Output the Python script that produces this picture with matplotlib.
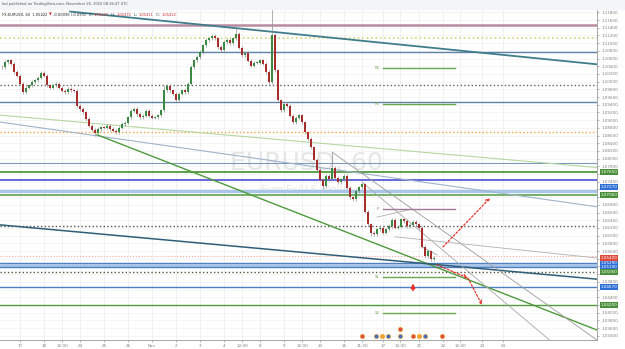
import numpy as np
import matplotlib.pyplot as plt
from matplotlib.patches import Rectangle

# hourly-ish closes (one candle every ~3 px)
closes = [1.1038, 1.1051, 1.1056, 1.1046, 1.1025, 1.1015, 1.0994, 1.0973, 1.0984, 1.0991,
          1.0999, 1.1004, 1.1010, 1.1023, 1.1015, 1.0991, 1.0984, 1.0991, 1.0994, 1.0984,
          1.0976, 1.0973, 1.0981, 1.0978, 1.0976, 1.0937, 1.0929, 1.0921, 1.0903, 1.0885,
          1.0875, 1.0867, 1.0877, 1.0882, 1.0880, 1.0885, 1.0877, 1.0872, 1.0869, 1.0880,
          1.0890, 1.0893, 1.0908, 1.0924, 1.0929, 1.0916, 1.0908, 1.0911, 1.0924, 1.0911,
          1.0906, 1.0908, 1.0913, 1.0926, 1.0978, 1.0989, 1.0978, 1.0968, 1.0952, 1.0968,
          1.0978, 1.0973, 1.0994, 1.1038, 1.1056, 1.1064, 1.1077, 1.1095, 1.1108, 1.1113,
          1.1119, 1.1113, 1.1090, 1.1082, 1.1103, 1.1108, 1.1100, 1.1113, 1.1124, 1.1088,
          1.1069, 1.1075, 1.1054, 1.1041, 1.1049, 1.1049, 1.1056, 1.1046, 1.1025, 1.0999,
          1.1121, 1.1030, 1.0952, 1.0926, 1.0942, 1.0937, 1.0911, 1.0895, 1.0906, 1.0913,
          1.0895, 1.0869, 1.0851, 1.0830, 1.0797, 1.0771, 1.0745, 1.0729, 1.0755, 1.0747,
          1.0776, 1.0750, 1.0739, 1.0747, 1.0755, 1.0724, 1.0700, 1.0695, 1.0716, 1.0726,
          1.0734, 1.0662, 1.0630, 1.0607, 1.0604, 1.0617, 1.0620, 1.0607, 1.0617, 1.0625,
          1.0641, 1.0620, 1.0623, 1.0643, 1.0638, 1.0625, 1.0628, 1.0636, 1.0630, 1.0620,
          1.0571, 1.0547, 1.0560, 1.0539, 1.0542]
extra_highs = {54: 1.0990, 78: 1.1140, 90: 1.1300, 110: 1.0817}
extra_lows = {31: 1.0860, 107: 1.0720, 123: 1.0600}

# horizontal levels drawn across the whole pane
level_prices = [1.1147, 1.1113, 1.1077, 1.0991, 1.0947, 1.0869, 1.0789, 1.0765, 1.0745,
                1.0716, 1.0706, 1.0625, 1.0547, 1.0529, 1.0524, 1.0519, 1.0506, 1.0467, 1.0420]
level_styles = [('#b88ba0', 1.8, '-'), ('#d6d27c', 1.2, ':'), ('#5f82a8', 1.0, '-'),
                ('#606060', 1.0, ':'), ('#5f82a8', 1.0, '-'), ('#f5a443', 1.0, ':'),
                ('#7d98b8', 0.8, '-'), ('#4f9a3c', 1.3, '-'), ('#3b3fd0', 1.1, '-'),
                ('#a9c6ea', 2.4, '-'), ('#4f9a3c', 1.1, '-'), ('#505050', 1.0, ':'),
                ('#f4a7a7', 0.8, ':'), ('#4f7fc0', 1.0, '-'), ('#a9c6ea', 2.2, '-'),
                ('#4f7fc0', 1.0, '-'), ('#4a5a3a', 1.0, ':'), ('#4f7fc0', 1.0, '-'),
                ('#4f9a3c', 1.0, '-')]

# pivot points (short segments)
pivot_names = ['R2', 'R1', 'P', 'S1', 'S2']
pivot_prices = [1.1036, 1.0942, 1.0669, 1.0493, 1.0399]
pivot_start, pivot_end = 127, 151

# trend lines: candle index / price of both ends
trend_x0 = [22.7, -0.7, -0.7, 31.7, -0.7, 110, 120, 131, 125, 140]
trend_p0 = [1.1182, 1.0913, 1.0895, 1.0862, 1.0628, 1.0817, 1.0739, 1.0597, 1.0648, 1.0571]
trend_x1 = [198.3, 198.3, 198.3, 198.3, 198.3, 198.3, 186, 198.3, 136, 145]
trend_p1 = [1.1045, 1.0777, 1.0675, 1.0355, 1.0487, 1.0329, 1.0306, 1.0542, 1.0668, 1.0550]
trend_styles = [('#3f7d8c', 1.3), ('#b5d6a0', 0.8), ('#9fb3cb', 0.8), ('#4f9a3c', 1.0),
                ('#2f5f78', 1.1), ('#9a9a9a', 0.6), ('#a8a8a8', 0.6), ('#b0b0b0', 0.6),
                ('#b0b0b0', 0.6), ('#a0a0a0', 0.6)]

# projected paths (red dotted arrows)
arrow_start = [(147, 1.0571), (145, 1.0524), (155.3, 1.0490)]
arrow_end = [(162.7, 1.0698), (155.3, 1.0490), (160, 1.0420)]

# coloured price tags on the right scale
tag_prices = [1.0765, 1.0727, 1.0706, 1.0529, 1.0519, 1.0506, 1.0467, 1.0420]
tag_colors = ['#4a8f3a', '#2f6fd8', '#4a8f3a', '#2f6fd8', '#2f6fd8', '#4a8f3a', '#2f6fd8', '#4a8f3a']

time_ticks = [6, 14, 20, 26, 34, 42, 50, 58, 66, 74, 80, 86, 94, 100, 106, 114, 120, 127,
              132.7, 139, 147, 152.7, 160, 167]
time_labels = ['17', '18', '12:00', '24', '25', '26', 'Nov', '2', '3', '4', '12:00', '8',
               '9', '12:00', '14', '15', '11:30', '17', '12:00', '21', '22', '12:00', '23', '24']

event_idx = [120, 124.7, 126.7, 128.7, 132.7, 132.7, 137, 139, 141, 146.7]
event_row = [0, 0, 0, 0, 0, 1, 0, 0, 0, 0]

up_col, down_col, wick_col = '#3a8a44', '#a82c2c', '#909090'

fig = plt.figure(figsize=(6.25, 3.49), dpi=100)
ax = fig.add_axes([0, 9 / 349, 597 / 625, 330 / 349])
ax.set_xlim(-0.67, 198.33)
ax.set_ylim(1.0329, 1.1186)

# grid
yt = np.arange(1.034, 1.1186, 0.002)
for v in yt:
    ax.axhline(v, color='#f2f2f2', lw=0.5, zorder=0)
for t in time_ticks:
    ax.axvline(t, color='#ececec', lw=0.5, zorder=0)

# watermark
ax.text(0.513, 0.535, 'EURUSD, 60', transform=ax.transAxes, ha='center', va='center',
        fontsize=18, color='#e6e6e6', zorder=0.5)
ax.text(0.513, 0.455, 'Euro Fx/U.S. Dollar', transform=ax.transAxes, ha='center', va='center',
        fontsize=7, color='#e6e6e6', zorder=0.5)

for p, (c, lw, ls) in zip(level_prices, level_styles):
    ax.axhline(p, color=c, lw=lw, ls=ls, zorder=1)

for x0, p0, x1, p1, (c, lw) in zip(trend_x0, trend_p0, trend_x1, trend_p1, trend_styles):
    ax.plot([x0, x1], [p0, p1], color=c, lw=lw, zorder=1.5)

for name, p in zip(pivot_names, pivot_prices):
    col = '#a07890' if name == 'P' else '#6aa84f'
    ax.plot([pivot_start, pivot_end], [p, p], color=col, lw=1.0, zorder=1.6)
    ax.text(pivot_start - 1.2, p, name, fontsize=2.8, color=col, ha='right', va='center')

# candles
n = len(closes)
idx = np.arange(n)
c_arr = np.array(closes)
o_arr = np.concatenate([[closes[0]], c_arr[:-1]])
h_arr = np.maximum(o_arr, c_arr) + 0.0004
l_arr = np.minimum(o_arr, c_arr) - 0.0004
for k, v in extra_highs.items():
    h_arr[k] = v
for k, v in extra_lows.items():
    l_arr[k] = v
colors = [up_col if c >= o else down_col for o, c in zip(o_arr, c_arr)]
ax.vlines(idx, l_arr, h_arr, color=wick_col, lw=0.5, zorder=2)
body = np.where(np.abs(c_arr - o_arr) < 0.00008, 0.00008, c_arr - o_arr)
ax.bar(idx, body, bottom=o_arr, width=0.6, color=colors, linewidth=0, zorder=3)

for s, e in zip(arrow_start, arrow_end):
    ax.annotate('', xy=e, xytext=s,
                arrowprops=dict(arrowstyle='->', color='#e8302a', lw=0.9, ls=(0, (1.5, 1.5)),
                                mutation_scale=6, shrinkA=0, shrinkB=0), zorder=4)
ax.annotate('', xy=(137, 1.0476), xytext=(137, 1.0458),
            arrowprops=dict(arrowstyle='-|>', color='#e8302a', lw=1.2, mutation_scale=6,
                            shrinkA=0, shrinkB=0), zorder=4)

# right price scale; tick labels hidden where a coloured tag covers them
tagged = tag_prices + [closes[-1]]
ylabels = ['' if min(abs(v - t) for t in tagged) < 0.0012 else '%.5f' % v for v in yt]
ax.yaxis.tick_right()
ax.set_yticks(yt)
ax.set_yticklabels(ylabels)
ax.tick_params(axis='y', labelsize=3, colors='#808080', length=1.5, width=0.4, pad=1.5)
ax.set_xticks(time_ticks)
ax.set_xticklabels(time_labels)
ax.tick_params(axis='x', labelsize=3, colors='#808080', length=1.5, width=0.4, pad=1.5)
for sp in ['top', 'left']:
    ax.spines[sp].set_visible(False)
for sp in ['right', 'bottom']:
    ax.spines[sp].set_color('#9a9a9a')
    ax.spines[sp].set_linewidth(0.6)

tr = ax.get_yaxis_transform()
for p, c in zip(tag_prices, tag_colors):
    ax.text(1.006, p, '%.5f' % p, transform=tr, fontsize=3, color='white', va='center',
            ha='left', bbox=dict(boxstyle='square,pad=0.25', fc=c, ec='none'), clip_on=False)
ax.text(1.006, closes[-1], '%.5f' % closes[-1], transform=tr, fontsize=3, color='white',
        va='center', ha='left', bbox=dict(boxstyle='square,pad=0.25', fc='#e04a3a', ec='none'),
        clip_on=False)

# economic event icons along the bottom
btr = ax.get_xaxis_transform()
ev_cols = ['#d94b3f', '#3a6bc9', '#f0a030', '#3a6bc9', '#3a6bc9', '#d94b3f', '#d94b3f',
           '#f0a030', '#3a6bc9', '#d94b3f']
for x, r, c in zip(event_idx, event_row, ev_cols):
    ax.scatter([x], [0.012 + r * 0.022], transform=btr, s=9, facecolor='white',
               edgecolor='#f0a030', linewidth=0.6, zorder=5, clip_on=False)
    ax.scatter([x], [0.012 + r * 0.022], transform=btr, s=2.5, color=c, zorder=6, clip_on=False)

# header
fig.patches.append(Rectangle((0, 1 - 9 / 349), 1, 9 / 349, transform=fig.transFigure,
                             color='#f3f5f8', zorder=0))
fig.text(0.004, 1 - 4.5 / 349, 'lnd published on TradingView.com, November 26, 2016 08:36:47 UTC',
         fontsize=2.6, color='#555555', va='center')

# symbol line: pieces placed one after another
renderer = fig.canvas.get_renderer()
pieces = [('FX:EURUSD, 60  1.05422 ', '#222222'), ('\u25bc', '#d03030'),
          (' -0.00096 (-0.09%)  O: ', '#222222'), ('1.05470', '#d03030'), ('  H: ', '#222222'),
          ('1.05472', '#d03030'), ('  L: ', '#222222'), ('1.05411', '#d03030'),
          ('  C: ', '#222222'), ('1.05422', '#d03030')]
xpos = 2
for txt, col in pieces:
    t = fig.text(xpos / 625, 1 - 15 / 349, txt, fontsize=2.6, color=col, va='center')
    xpos = t.get_window_extent(renderer).x1 + 0.3

fig.savefig('out.png', dpi=100)
